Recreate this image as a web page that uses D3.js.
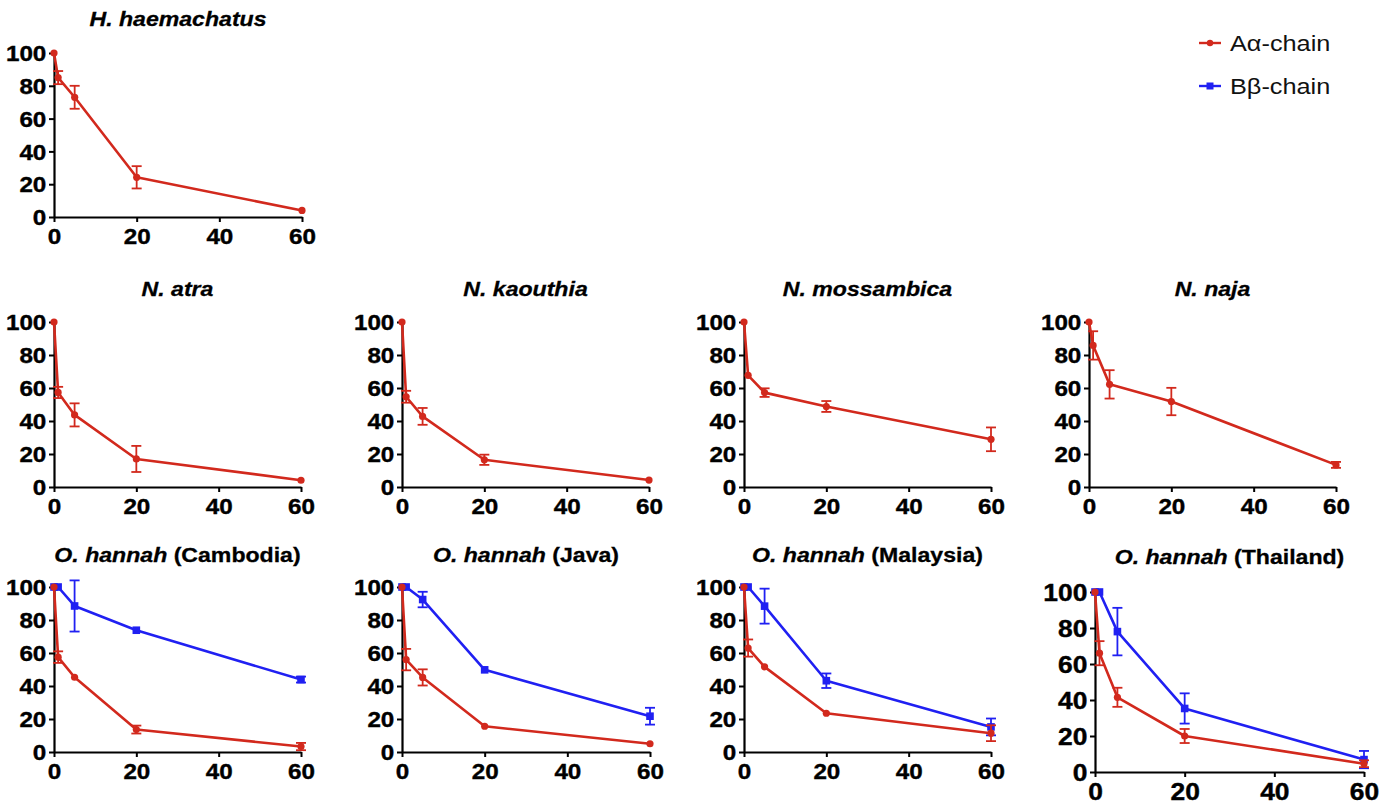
<!DOCTYPE html>
<html>
<head>
<meta charset="utf-8">
<script src="https://cdn.jsdelivr.net/npm/d3@7"></script>
<style>
  html, body { margin: 0; padding: 0; background: #fff; }
  svg { display: block; }
  text { font-family: "Liberation Sans", Arial, Helvetica, sans-serif; }
</style>
</head>
<body>
<svg id="chart" width="1392" height="807"></svg>
<script>
// ---------------- data ----------------
const times = [0, 1, 5, 20, 60];
const xTicks = [0, 20, 40, 60];
const yTicks = [0, 20, 40, 60, 80, 100];
const seriesNames = ["Aα-chain", "Bβ-chain"];

const speciesNames = ["H. haemachatus", "N. atra", "N. kaouthia", "N. mossambica", "N. naja",
                      "O. hannah", "O. hannah", "O. hannah", "O. hannah"];
const localities = ["", "", "", "", "", "(Cambodia)", "(Java)", "(Malaysia)", "(Thailand)"];

const hHaemachatusA    = [100, 85, 73, 24.2, 4];
const hHaemachatusAErr = [0, 4, 7, 6.8, 0.6];
const nAtraA           = [100, 57.3, 43.7, 17, 4.1];
const nAtraAErr        = [0, 3.4, 7, 7.9, 0.5];
const nKaouthiaA       = [100, 54.7, 42.8, 16.5, 4.2];
const nKaouthiaAErr    = [0, 3.6, 5.1, 3.1, 0.5];
const nMossambicaA     = [100, 67.7, 57.2, 48.8, 28.9];
const nMossambicaAErr  = [0, 1, 2.6, 3.3, 7.2];
const nNajaA           = [100, 85.8, 62.2, 51.8, 13.4];
const nNajaAErr        = [0, 8.6, 8.6, 8.3, 1.8];
const cambodiaA        = [100, 57.5, 45.3, 13.6, 3.3];
const cambodiaAErr     = [0, 3.5, 0.8, 2.4, 2.2];
const cambodiaB        = [100, 100, 88.5, 73.8, 43.9];
const cambodiaBErr     = [0, 0.5, 15.5, 1, 1.8];
const javaA            = [100, 56, 45.2, 15.6, 5];
const javaAErr         = [0, 6.5, 4.9, 0.8, 0.5];
const javaB            = [100, 100, 92.4, 49.8, 21.7];
const javaBErr         = [0, 0.5, 4.7, 0.8, 5.1];
const malaysiaA        = [100, 63, 51.6, 23.5, 11.4];
const malaysiaAErr     = [0, 5.2, 0.8, 0.8, 4.8];
const malaysiaB        = [100, 100, 88.4, 43.2, 15.2];
const malaysiaBErr     = [0, 0.5, 10.6, 4.4, 5.1];
const thailandA        = [100, 66, 41.5, 20, 4.6];
const thailandAErr     = [0, 6.7, 5.3, 3.9, 1.9];
const thailandB        = [100, 100, 78, 35.3, 6.9];
const thailandBErr     = [0, 0.5, 13.2, 8.4, 4.8];

const seriesA    = [hHaemachatusA, nAtraA, nKaouthiaA, nMossambicaA, nNajaA, cambodiaA, javaA, malaysiaA, thailandA];
const seriesAErr = [hHaemachatusAErr, nAtraAErr, nKaouthiaAErr, nMossambicaAErr, nNajaAErr, cambodiaAErr, javaAErr, malaysiaAErr, thailandAErr];
const seriesB    = [null, null, null, null, null, cambodiaB, javaB, malaysiaB, thailandB];
const seriesBErr = [null, null, null, null, null, cambodiaBErr, javaBErr, malaysiaBErr, thailandBErr];

// ---------------- layout (pixels) ----------------
const layout = [
  { x0: 54,   x1: 302,  yTop: 53,  yBot: 217, titleY: 26,  fs: 22 },
  { x0: 54,   x1: 301,  yTop: 322, yBot: 487, titleY: 296, fs: 22 },
  { x0: 402,  x1: 649,  yTop: 322, yBot: 487, titleY: 296, fs: 22 },
  { x0: 744,  x1: 991,  yTop: 322, yBot: 487, titleY: 296, fs: 22 },
  { x0: 1089, x1: 1336, yTop: 322, yBot: 487, titleY: 296, fs: 22 },
  { x0: 54,   x1: 301,  yTop: 587, yBot: 752, titleY: 562, fs: 22 },
  { x0: 402,  x1: 650,  yTop: 587, yBot: 752, titleY: 562, fs: 22 },
  { x0: 744,  x1: 991,  yTop: 587, yBot: 752, titleY: 562, fs: 22 },
  { x0: 1095, x1: 1364, yTop: 592, yBot: 772, titleY: 564, fs: 24 }
];
const RED = "#d2291d";
const BLUE = "#2020f2";
const SX = 1.1; // horizontal stretch of text in the source figure

const svg = d3.select("#chart");

layout.forEach((L, i) => {
  const g = svg.append("g");
  const x = d3.scaleLinear().domain([0, 60]).range([L.x0, L.x1]);
  const y = d3.scaleLinear().domain([0, 100]).range([L.yBot, L.yTop]);

  // title
  const t = g.append("text")
    .attr("transform", `translate(${(L.x0 + L.x1) / 2},${L.titleY}) scale(${SX},1)`)
    .attr("text-anchor", "middle")
    .attr("font-size", 21)
    .attr("font-weight", "bold")
    .attr("fill", "#000")
    .attr("stroke", "#000").attr("stroke-width", 0.3);
  t.append("tspan").attr("font-style", "italic").text(speciesNames[i]);
  if (localities[i]) t.append("tspan").text(" " + localities[i]);

  // axes
  const yAxis = g.append("g")
    .attr("transform", `translate(${L.x0},0)`)
    .call(d3.axisLeft(y).tickValues(yTicks).tickSize(5).tickSizeOuter(0).tickPadding(2));
  const xAxis = g.append("g")
    .attr("transform", `translate(0,${L.yBot})`)
    .call(d3.axisBottom(x).tickValues(xTicks).tickSize(5).tickSizeOuter(0).tickPadding(5));
  [yAxis, xAxis].forEach(a => {
    a.select(".domain").attr("stroke", "#000").attr("stroke-width", 2.2);
    a.selectAll(".tick line").attr("stroke", "#000").attr("stroke-width", 2);
    a.selectAll(".tick text")
      .attr("fill", "#000")
      .attr("stroke", "#000").attr("stroke-width", 0.4)
      .attr("font-size", L.fs)
      .attr("font-weight", "bold")
      .attr("font-family", "'Liberation Sans', Arial, sans-serif");
  });
  yAxis.selectAll(".tick text").attr("transform", `scale(${SX},1)`).attr("dy", "0.35em");
  xAxis.selectAll(".tick text").attr("transform", `scale(${SX},1)`).attr("dy", "0.76em");

  const line = d3.line().x((d, k) => x(times[k])).y(d => y(d));

  function drawSeries(vals, errs, color, shape) {
    if (!vals) return;
    const s = g.append("g");
    // error bars
    vals.forEach((v, k) => {
      const e = errs[k];
      if (e < 1.2) return;
      const cx = x(times[k]);
      s.append("line").attr("x1", cx).attr("x2", cx).attr("y1", y(v + e)).attr("y2", y(v - e))
        .attr("stroke", color).attr("stroke-width", 1.8);
      [v + e, v - e].forEach(val => {
        s.append("line").attr("x1", cx - 5).attr("x2", cx + 5).attr("y1", y(val)).attr("y2", y(val))
          .attr("stroke", color).attr("stroke-width", 1.8);
      });
    });
    s.append("path").attr("d", line(vals)).attr("fill", "none")
      .attr("stroke", color).attr("stroke-width", 2.6).attr("stroke-linejoin", "round");
    vals.forEach((v, k) => {
      if (shape === "circle") {
        s.append("circle").attr("cx", x(times[k])).attr("cy", y(v)).attr("r", 3.6).attr("fill", color);
      } else {
        s.append("rect").attr("x", x(times[k]) - 3.8).attr("y", y(v) - 3.8)
          .attr("width", 7.6).attr("height", 7.6).attr("fill", color);
      }
    });
  }
  drawSeries(seriesB[i], seriesBErr[i], BLUE, "square");
  drawSeries(seriesA[i], seriesAErr[i], RED, "circle");
});

// legend
const legend = svg.append("g");
const legendItems = [
  { name: seriesNames[0], color: RED, shape: "circle", y: 43 },
  { name: seriesNames[1], color: BLUE, shape: "square", y: 86 }
];
legendItems.forEach(it => {
  legend.append("line").attr("x1", 1199).attr("x2", 1221).attr("y1", it.y).attr("y2", it.y)
    .attr("stroke", it.color).attr("stroke-width", 2.4);
  if (it.shape === "circle") {
    legend.append("circle").attr("cx", 1210).attr("cy", it.y).attr("r", 3.2).attr("fill", it.color);
  } else {
    legend.append("rect").attr("x", 1206.5).attr("y", it.y - 3.5).attr("width", 7).attr("height", 7).attr("fill", it.color);
  }
  legend.append("text")
    .attr("transform", `translate(1230,${it.y + 8}) scale(1.15,1)`)
    .attr("font-size", 22)
    .attr("fill", "#111")
    .text(it.name);
});
</script>
</body>
</html>
